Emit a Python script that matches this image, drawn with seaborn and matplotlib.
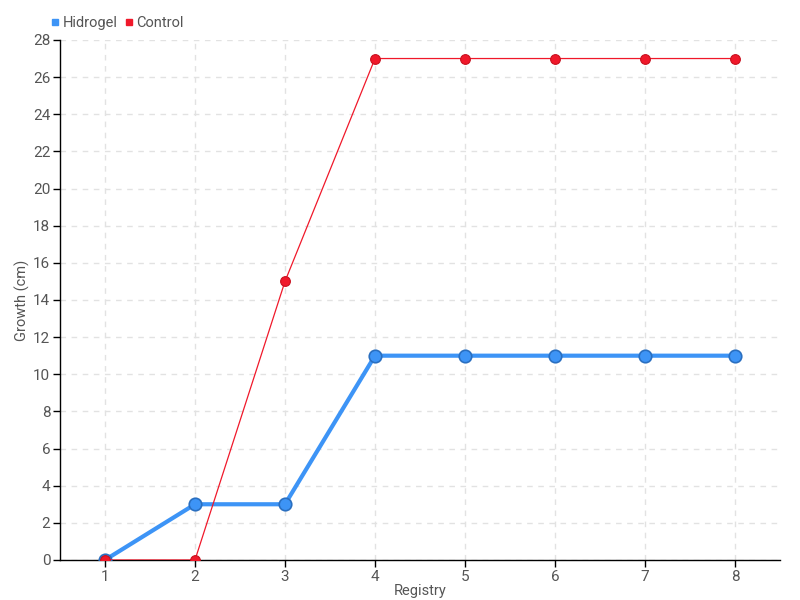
import matplotlib
matplotlib.use("Agg")
import matplotlib.pyplot as plt
import seaborn as sns
import pandas as pd
from matplotlib.lines import Line2D

registry = [1, 2, 3, 4, 5, 6, 7, 8]
hidrogel = [0, 3, 3, 11, 11, 11, 11, 11]
control = [0, 0, 15, 27, 27, 27, 27, 27]
y_ticks = list(range(0, 29, 2))

sns.set_theme(style="white")
plt.rcParams['font.family'] = ['Liberation Sans Narrow', 'Roboto', 'DejaVu Sans']
plt.rcParams['font.stretch'] = 'condensed'

df = pd.DataFrame({"Registry": registry, "Hidrogel": hidrogel, "Control": control})

fig = plt.figure(figsize=(8, 6), dpi=100)
ax = fig.add_axes([0.075, 0.0667, 0.9, 0.8667])

sns.lineplot(data=df, x="Registry", y="Hidrogel", ax=ax, color="#3d94f6", linewidth=3,
             marker="o", markersize=9, markeredgecolor="#2a6fc0", markeredgewidth=1.2, zorder=3)
sns.lineplot(data=df, x="Registry", y="Control", ax=ax, color="#f0182a", linewidth=0.9,
             marker="o", markersize=7, markeredgecolor="#c8101e", markeredgewidth=0.8, zorder=4)

ax.set_xlim(0.5, 8.5)
ax.set_ylim(0, 28)
ax.set_xticks(registry)
ax.set_yticks(y_ticks)
ax.grid(True, color="#e2e2e2", linestyle=(0, (4, 4)), linewidth=1)
for s in ["top", "right"]:
    ax.spines[s].set_visible(False)
for s in ["left", "bottom"]:
    ax.spines[s].set_color("black")
    ax.spines[s].set_linewidth(1)
ax.tick_params(axis="both", direction="out", length=5, width=1, color="black",
               labelsize=11, labelcolor="#555555", bottom=True, left=True, pad=2)
ax.set_xlabel("Registry", fontsize=10.5, color="#555555", labelpad=0)
ax.set_ylabel("Growth (cm)", fontsize=10.5, color="#555555", labelpad=2)

handles = [Line2D([], [], linestyle="none", marker="s", markersize=5, color="#3d94f6"),
           Line2D([], [], linestyle="none", marker="s", markersize=5, color="#f0182a")]
fig.legend(handles, ["Hidrogel", "Control"], loc="upper left", bbox_to_anchor=(0.047, 0.995),
           ncol=2, frameon=False, fontsize=10.5, handlelength=0.6, handletextpad=0.2,
           columnspacing=0.5, labelcolor="#555555")

fig.savefig("out.png", dpi=100)
